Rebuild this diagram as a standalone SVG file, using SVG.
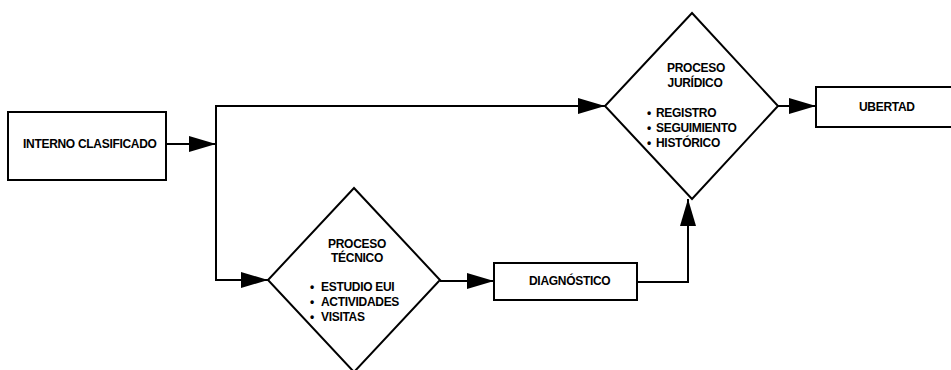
<svg xmlns="http://www.w3.org/2000/svg" width="951" height="370" viewBox="0 0 951 370">
  <style>
    .shape { fill: #ffffff; stroke: #000000; stroke-width: 2; }
    .line { fill: none; stroke: #000000; stroke-width: 2; }
    .t { font-family: "Liberation Sans", Arial, sans-serif; font-size: 12px; font-weight: bold; fill: #000000; letter-spacing: -0.3px; }
    .c { text-anchor: middle; }
  </style>
  <defs>
    <marker id="arrow" viewBox="0 0 27 16" refX="27" refY="8" markerWidth="27" markerHeight="16" markerUnits="userSpaceOnUse" orient="auto">
      <path d="M0,0 L27,8 L0,16 Z" fill="#000000"/>
    </marker>
  </defs>
  <rect width="951" height="370" fill="#ffffff"/>

  <g id="connectors">
    <line class="line" x1="166" y1="144" x2="216" y2="144" marker-end="url(#arrow)"/>
    <line class="line" x1="216" y1="105" x2="216" y2="280"/>
    <line class="line" x1="215" y1="106" x2="605" y2="106" marker-end="url(#arrow)"/>
    <line class="line" x1="215" y1="280" x2="268" y2="280" marker-end="url(#arrow)"/>
    <line class="line" x1="440" y1="281" x2="494" y2="281" marker-end="url(#arrow)"/>
    <polyline class="line" points="637,282 688,282 688,199" marker-end="url(#arrow)"/>
    <line class="line" x1="778" y1="106" x2="816" y2="106" marker-end="url(#arrow)"/>
  </g>

  <g id="interno">
    <rect class="shape" x="8" y="112" width="158" height="68"/>
    <text class="t" x="23" y="148">INTERNO CLASIFICADO</text>
  </g>

  <g id="tecnico">
    <polygon class="shape" points="354,188 440,280 354,372 268,280"/>
    <text class="t c" x="357" y="248">PROCESO</text>
    <text class="t c" x="357" y="262">TÉCNICO</text>
    <text class="t"><tspan x="310" y="291">•</tspan><tspan x="321" y="291">ESTUDIO EUI</tspan></text>
    <text class="t"><tspan x="310" y="306">•</tspan><tspan x="321" y="306">ACTIVIDADES</tspan></text>
    <text class="t"><tspan x="310" y="321">•</tspan><tspan x="321" y="321">VISITAS</tspan></text>
  </g>

  <g id="diagnostico">
    <rect class="shape" x="494" y="263" width="143" height="37"/>
    <text class="t" x="529" y="285">DIAGNÓSTICO</text>
  </g>

  <g id="juridico">
    <polygon class="shape" points="692,13 778,106 692,199 605,106"/>
    <text class="t c" x="696" y="72">PROCESO</text>
    <text class="t c" x="695" y="87">JURÍDICO</text>
    <text class="t"><tspan x="647" y="117">•</tspan><tspan x="656" y="117">REGISTRO</tspan></text>
    <text class="t"><tspan x="647" y="132">•</tspan><tspan x="656" y="132">SEGUIMIENTO</tspan></text>
    <text class="t"><tspan x="647" y="147">•</tspan><tspan x="656" y="147">HISTÓRICO</tspan></text>
  </g>

  <g id="libertad">
    <rect class="shape" x="816" y="87" width="150" height="40"/>
    <text class="t" x="859" y="111">UBERTAD</text>
  </g>
</svg>
